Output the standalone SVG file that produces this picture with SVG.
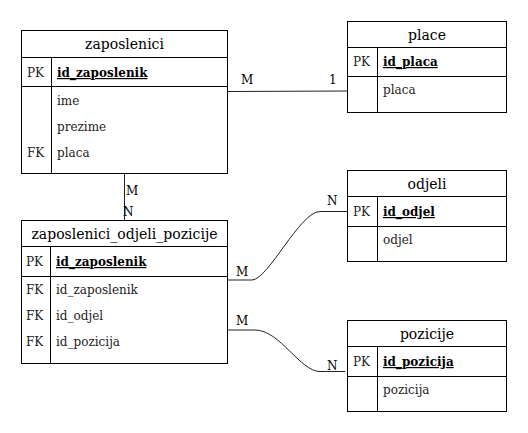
<svg xmlns="http://www.w3.org/2000/svg" width="528" height="433" viewBox="0 0 528 433">
<style>
.box{fill:#fff;stroke:#000;stroke-width:1}
.ln{stroke:#000;stroke-width:1;fill:none}
.title{font-family:"DejaVu Serif",serif;font-size:14px;fill:#000;text-anchor:middle}
.t{font-family:"DejaVu Serif",serif;font-size:12px;fill:#222}
.pk{font-family:"DejaVu Serif",serif;font-size:12px;font-weight:bold;fill:#000;text-decoration:underline}
.conn{stroke:#222;stroke-width:1;fill:none}
.lbl{font-family:"DejaVu Serif",serif;font-size:12px;fill:#000}
</style>
<rect width="528" height="433" fill="#fff"/>
<g id="connectors">
<path class="conn" d="M227.5,91.5 L347.5,91"/>
<path class="conn" d="M124.5,174 L124.5,220.5"/>
<path class="conn" d="M227.5,280 L252,280 C268,280 300,211.5 320,211.5 L347.5,211.5"/>
<path class="conn" d="M227.5,330 L255,330 C280,330 300,371.5 320,371.5 L345,371.5"/>
<text class="lbl" x="241" y="84">M</text>
<text class="lbl" x="329" y="84">1</text>
<text class="lbl" x="126" y="195">M</text>
<text class="lbl" x="123" y="216">N</text>
<text class="lbl" x="236" y="276">M</text>
<text class="lbl" x="327" y="205">N</text>
<text class="lbl" x="236" y="325">M</text>
<text class="lbl" x="327" y="370">N</text>
</g>
<g id="zaposlenici">
<rect class="box" x="21.5" y="30.5" width="206" height="143"/>
<path class="ln" d="M21.5,57.5 H227.5 M21.5,86.5 H227.5 M51.5,57.5 V173.5"/>
<text class="title" x="124.5" y="49">zaposlenici</text>
<text class="t" x="27" y="77">PK</text>
<text class="pk" x="57" y="77">id_zaposlenik</text>
<text class="t" x="57" y="105">ime</text>
<text class="t" x="57" y="131">prezime</text>
<text class="t" x="27" y="157">FK</text>
<text class="t" x="57" y="157">placa</text>
</g>
<g id="place">
<rect class="box" x="347.5" y="21.5" width="159" height="91"/>
<path class="ln" d="M347.5,47.5 H506.5 M347.5,76.5 H506.5 M377.5,47.5 V112.5"/>
<text class="title" x="427" y="40">place</text>
<text class="t" x="353" y="66">PK</text>
<text class="pk" x="383" y="66">id_placa</text>
<text class="t" x="383" y="94">placa</text>
</g>
<g id="zaposlenici_odjeli_pozicije">
<rect class="box" x="21.5" y="220.5" width="206" height="143"/>
<path class="ln" d="M21.5,246.5 H227.5 M21.5,276.5 H227.5 M50.5,246.5 V363.5"/>
<text class="title" x="124.5" y="239">zaposlenici_odjeli_pozicije</text>
<text class="t" x="26" y="266">PK</text>
<text class="pk" x="56" y="266">id_zaposlenik</text>
<text class="t" x="26" y="294">FK</text>
<text class="t" x="56" y="294">id_zaposlenik</text>
<text class="t" x="26" y="320">FK</text>
<text class="t" x="56" y="320">id_odjel</text>
<text class="t" x="26" y="346">FK</text>
<text class="t" x="56" y="346">id_pozicija</text>
</g>
<g id="odjeli">
<rect class="box" x="347.5" y="170.5" width="159" height="91"/>
<path class="ln" d="M347.5,196.5 H506.5 M347.5,226.5 H506.5 M377.5,196.5 V261.5"/>
<text class="title" x="427" y="189">odjeli</text>
<text class="t" x="353" y="216">PK</text>
<text class="pk" x="383" y="216">id_odjel</text>
<text class="t" x="383" y="244">odjel</text>
</g>
<g id="pozicije">
<rect class="box" x="347.5" y="320.5" width="159" height="91"/>
<path class="ln" d="M347.5,346.5 H506.5 M347.5,376.5 H506.5 M377.5,346.5 V411.5"/>
<text class="title" x="427" y="339">pozicije</text>
<text class="t" x="353" y="366">PK</text>
<text class="pk" x="383" y="366">id_pozicija</text>
<text class="t" x="383" y="394">pozicija</text>
</g>
</svg>
